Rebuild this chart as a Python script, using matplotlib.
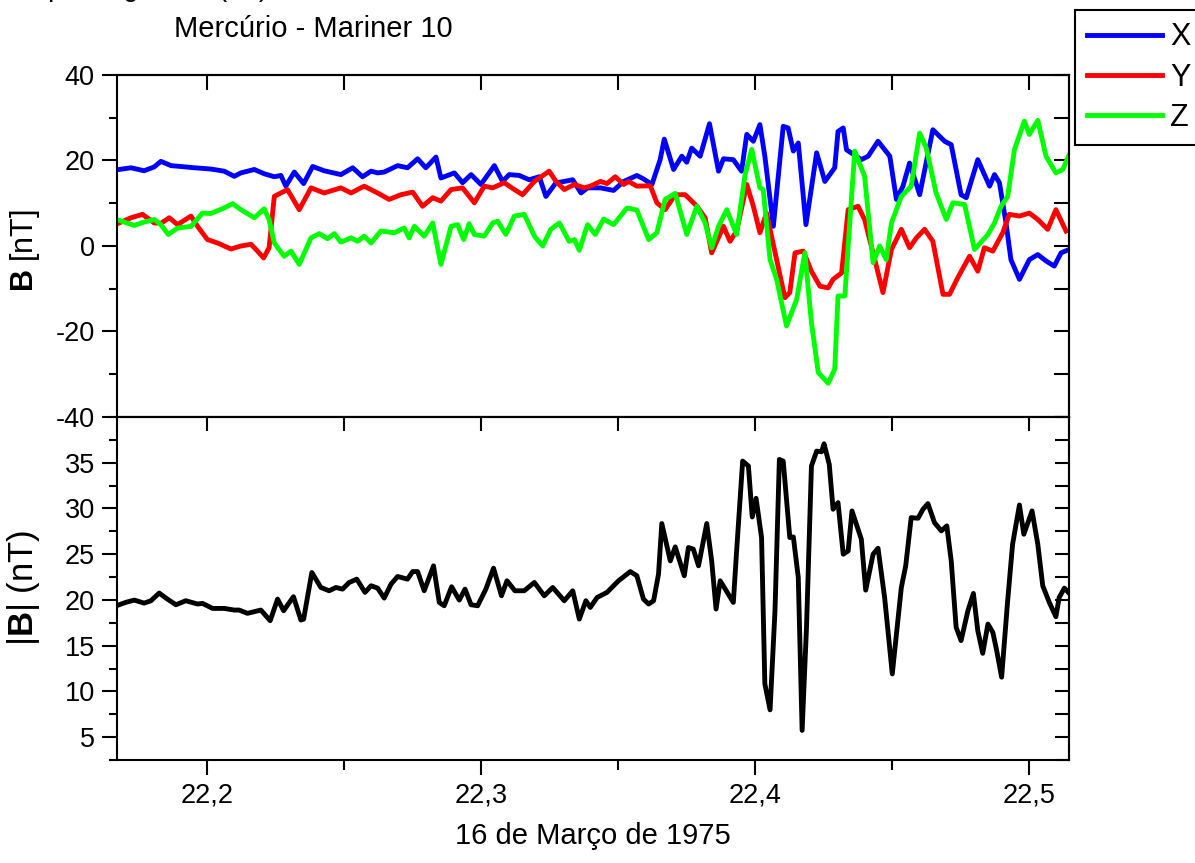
import matplotlib
matplotlib.use('Agg')
import matplotlib.pyplot as plt
from matplotlib.lines import Line2D
from matplotlib.ticker import MultipleLocator, FuncFormatter

plt.rcParams['font.family'] = ['Liberation Sans', 'DejaVu Sans']
plt.rcParams['mathtext.fontset'] = 'custom'
plt.rcParams['mathtext.rm'] = 'Liberation Sans'
plt.rcParams['mathtext.bf'] = 'Liberation Sans:bold'
plt.rcParams['axes.unicode_minus'] = False

# Mariner 10, 16 March 1975 -- field components (nT)
t_x = [22.1680, 22.1723, 22.1771, 22.1808, 22.1832, 22.1869, 22.1905, 22.1954, 22.2015, 22.2063,
       22.2100, 22.2124, 22.2173, 22.2209, 22.2246, 22.2270, 22.2288, 22.2319, 22.2353, 22.2386,
       22.2428, 22.2489, 22.2532, 22.2568, 22.2599, 22.2623, 22.2647, 22.2696, 22.2732, 22.2769,
       22.2799, 22.2836, 22.2854, 22.2903, 22.2933, 22.2964, 22.3000, 22.3049, 22.3079, 22.3103,
       22.3140, 22.3176, 22.3213, 22.3237, 22.3274, 22.3304, 22.3335, 22.3365, 22.3389,
       22.3436, 22.3484, 22.3521, 22.3569, 22.3593, 22.3624, 22.3654, 22.3669, 22.3703, 22.3733,
       22.3751, 22.3769, 22.3800, 22.3834, 22.3867, 22.3885, 22.3921, 22.3951, 22.3970, 22.3994,
       22.4018, 22.4036, 22.4067, 22.4103, 22.4121, 22.4140, 22.4158, 22.4186, 22.4225, 22.4255,
       22.4291, 22.4303, 22.4322, 22.4334, 22.4370, 22.4388, 22.4413, 22.4449, 22.4492, 22.4516,
       22.4540, 22.4564, 22.4601, 22.4649, 22.4692, 22.4716, 22.4752, 22.4771, 22.4813, 22.4856,
       22.4874, 22.4892, 22.4916, 22.4934, 22.4965, 22.5001, 22.5032, 22.5062, 22.5092, 22.5117,
       22.5147]
bx = [17.9, 18.3, 17.6, 18.5, 19.8, 18.8, 18.6, 18.3, 18.0, 17.5,
      16.3, 17.1, 17.9, 16.9, 16.2, 16.5, 14.0, 17.3, 14.6, 18.6,
      17.6, 16.7, 18.3, 16.2, 17.5, 17.1, 17.3, 18.8, 18.3, 20.4,
      18.3, 20.8, 15.9, 17.1, 14.8, 16.7, 14.4, 18.8, 15.1, 16.7,
      16.5, 15.5, 16.2, 11.6, 14.8, 15.1, 15.5, 12.4, 13.6,
      13.6, 13.0, 15.1, 16.5, 15.7, 14.4, 20.2, 25.0, 17.9, 21.0,
      19.6, 22.9, 21.0, 28.6, 17.5, 20.4, 20.2, 17.5, 26.1, 24.5,
      28.4, 21.0, 4.6, 28.0, 27.6, 22.2, 24.1, 5.0, 21.8, 15.1,
      18.3, 26.8, 27.6, 22.5, 21.0, 20.2, 21.0, 24.5, 21.0, 10.9,
      14.0, 19.4, 12.0, 27.2, 24.5, 23.7, 12.0, 11.3, 20.2, 14.0,
      16.7, 14.8, 5.4, -3.2, -7.8, -3.2, -2.0, -3.5, -4.7, -1.6,
      -0.8]

t_y = [22.1680, 22.1723, 22.1765, 22.1808, 22.1832, 22.1863, 22.1893, 22.1942, 22.1966, 22.2002,
       22.2039, 22.2088, 22.2124, 22.2161, 22.2185, 22.2207, 22.2227, 22.2246, 22.2294, 22.2337,
       22.2380, 22.2428, 22.2489, 22.2526, 22.2574, 22.2623, 22.2665, 22.2708, 22.2751, 22.2787,
       22.2824, 22.2854, 22.2891, 22.2933, 22.2976, 22.3012, 22.3043, 22.3085, 22.3122, 22.3152,
       22.3195, 22.3249, 22.3274, 22.3304, 22.3341, 22.3377,
       22.3399, 22.3436, 22.3460, 22.3490, 22.3521, 22.3539, 22.3569, 22.3618, 22.3642, 22.3672,
       22.3709, 22.3745, 22.3763, 22.3788, 22.3818, 22.3842, 22.3885, 22.3909, 22.3933, 22.3970,
       22.3994, 22.4018, 22.4042, 22.4079, 22.4109, 22.4127, 22.4146, 22.4176, 22.4206, 22.4237,
       22.4267, 22.4285, 22.4316, 22.4340, 22.4376, 22.4400, 22.4437, 22.4467, 22.4498, 22.4534,
       22.4564, 22.4589, 22.4619, 22.4649, 22.4686, 22.4710, 22.4740, 22.4783, 22.4813, 22.4837,
       22.4868, 22.4904, 22.4928, 22.4965, 22.5001, 22.5032, 22.5068, 22.5098, 22.5135]
by = [5.4, 6.6, 7.4, 5.4, 5.3, 6.6, 5.0, 7.0, 4.6, 1.5,
      0.7, -0.7, 0.0, 0.4, -1.2, -2.8, -0.4, 11.6, 13.2, 8.5,
      13.6, 12.4, 13.6, 12.4, 14.0, 12.4, 10.9, 12.0, 12.6, 9.3,
      11.3, 10.5, 13.2, 13.6, 10.1, 14.0, 13.6, 14.8, 13.2, 12.0,
      15.1, 17.5, 15.1, 13.2, 14.4, 13.6,
      14.0, 15.1, 14.6, 16.2, 14.4, 15.1, 14.0, 14.1, 10.1, 8.5,
      12.0, 12.0, 10.9, 9.3, 6.6, -1.6, 4.6, 1.1, 3.5, 14.4,
      9.3, 3.1, 7.7, -3.2, -12.1, -10.9, -1.6, -1.2, -5.9, -9.4,
      -9.8, -7.8, -6.3, 8.5, 9.3, 6.2, -3.2, -10.9, -0.8, 3.9,
      -0.4, 1.9, 3.9, 1.1, -11.3, -11.3, -7.4, -2.4, -5.9, -0.4,
      -1.2, 3.1, 7.4, 7.0, 7.7, 6.2, 3.9, 8.5, 3.5]

t_z = [22.1680, 22.1735, 22.1771, 22.1808, 22.1832, 22.1859, 22.1893, 22.1942, 22.1984, 22.2015,
       22.2063, 22.2094, 22.2124, 22.2173, 22.2209, 22.2227, 22.2246, 22.2282, 22.2307, 22.2337,
       22.2380, 22.2410, 22.2440, 22.2465, 22.2489, 22.2526, 22.2550, 22.2574, 22.2599, 22.2635,
       22.2684, 22.2720, 22.2738, 22.2757, 22.2793, 22.2824, 22.2854, 22.2891, 22.2915, 22.2937,
       22.2957, 22.2976, 22.3012, 22.3043, 22.3061, 22.3091, 22.3122, 22.3158, 22.3195, 22.3225,
       22.3255, 22.3286, 22.3322, 22.3341, 22.3359, 22.3389,
       22.3417, 22.3448, 22.3484, 22.3533, 22.3569, 22.3612, 22.3642, 22.3672, 22.3709, 22.3751,
       22.3788, 22.3818, 22.3842, 22.3867, 22.3897, 22.3933, 22.3964, 22.3988, 22.4018, 22.4030,
       22.4055, 22.4079, 22.4115, 22.4152, 22.4182, 22.4206, 22.4231, 22.4267, 22.4291, 22.4303,
       22.4328, 22.4340, 22.4364, 22.4400, 22.4431, 22.4455, 22.4479, 22.4498, 22.4534, 22.4570,
       22.4601, 22.4625, 22.4661, 22.4698, 22.4722, 22.4765, 22.4801, 22.4850, 22.4874, 22.4898,
       22.4922, 22.4947, 22.4983, 22.5001, 22.5032, 22.5062, 22.5098, 22.5123, 22.5147]
bz = [6.0, 4.8, 5.6, 6.2, 5.0, 2.7, 4.2, 4.6, 7.7, 7.6,
      8.9, 9.9, 8.5, 6.6, 8.7, 6.2, 0.7, -2.4, -1.2, -4.3,
      1.9, 2.9, 1.7, 2.9, 0.9, 1.9, 1.1, 2.3, 0.7, 3.5,
      3.1, 4.2, 1.9, 4.6, 2.3, 5.4, -4.3, 4.6, 5.0, 1.5,
      5.2, 2.7, 2.3, 5.4, 5.8, 2.7, 7.0, 7.4, 2.3, 0.0,
      3.9, 5.4, 1.1, 1.5, -1.0, 5.0,
      2.7, 6.3, 5.0, 8.9, 8.4, 1.5, 3.1, 10.9, 12.3, 2.7,
      9.3, 5.4, -0.4, 4.6, 8.5, 2.7, 16.7, 22.6, 13.6, 13.2,
      -3.2, -7.8, -18.7, -12.5, -1.6, -17.9, -29.6, -32.1, -28.8, -11.7,
      -11.7, 0.0, 22.2, 16.3, -3.9, 0.0, -3.2, 5.4, 11.6, 14.0,
      26.4, 22.9, 12.4, 6.2, 10.1, 9.7, -0.8, 2.7, 5.4, 9.3,
      11.6, 22.6, 29.2, 26.1, 29.4, 21.0, 17.1, 17.9, 21.4]

# field magnitude |B| (nT)
t_b = [22.1680, 22.1704, 22.1735, 22.1771, 22.1796, 22.1826, 22.1856, 22.1887, 22.1923, 22.1966,
       22.1984, 22.2021, 22.2063, 22.2100, 22.2118, 22.2148, 22.2197, 22.2231, 22.2258, 22.2280,
       22.2316, 22.2343, 22.2353, 22.2383, 22.2416, 22.2446, 22.2471, 22.2495, 22.2519, 22.2547,
       22.2577, 22.2599, 22.2623, 22.2647, 22.2672, 22.2696, 22.2732, 22.2751, 22.2769, 22.2793,
       22.2827, 22.2848, 22.2866, 22.2893, 22.2921, 22.2942, 22.2964, 22.2988, 22.3018, 22.3046,
       22.3075, 22.3095, 22.3124, 22.3158, 22.3195, 22.3231, 22.3262, 22.3304, 22.3335, 22.3359,
       22.3383,
       22.3399, 22.3424, 22.3460, 22.3502, 22.3545, 22.3569, 22.3593, 22.3612, 22.3630, 22.3648,
       22.3660, 22.3691, 22.3709, 22.3742, 22.3757, 22.3775, 22.3794, 22.3824, 22.3842, 22.3858,
       22.3873, 22.3921, 22.3933, 22.3955, 22.3976, 22.3990, 22.4004, 22.4024, 22.4036, 22.4055,
       22.4073, 22.4089, 22.4103, 22.4127, 22.4140, 22.4158, 22.4172, 22.4188, 22.4206, 22.4225,
       22.4243, 22.4252, 22.4271, 22.4285, 22.4303, 22.4322, 22.4340, 22.4354, 22.4388, 22.4404,
       22.4431, 22.4449, 22.4473, 22.4501, 22.4534, 22.4550, 22.4570, 22.4595, 22.4613, 22.4631,
       22.4655, 22.4680, 22.4700, 22.4716, 22.4734, 22.4752, 22.4777, 22.4797, 22.4813, 22.4831,
       22.4850, 22.4868, 22.4882, 22.4900, 22.4922, 22.4940, 22.4965, 22.4981, 22.5011, 22.5032,
       22.5050, 22.5074, 22.5098, 22.5110, 22.5129, 22.5147]
bmag = [19.47, 19.73, 19.98, 19.65, 19.91, 20.75, 20.09, 19.47, 19.91, 19.55,
        19.62, 19.07, 19.07, 18.89, 18.89, 18.53, 18.89, 17.73, 20.09, 18.82,
        20.35, 17.80, 17.90, 23.00, 21.36, 21.00, 21.36, 21.18, 21.90, 22.27,
        20.82, 21.55, 21.29, 20.20, 21.73, 22.56, 22.27, 23.10, 23.10, 21.00,
        23.73, 19.73, 19.36, 21.44, 19.98, 21.18, 19.47, 19.36, 21.18, 23.47,
        20.45, 22.09, 21.00, 21.00, 21.91, 20.45, 21.36, 19.91, 21.00, 17.91,
        19.91,
        19.18, 20.27, 20.82, 22.09, 23.10, 22.64, 20.09, 19.55, 19.91, 22.82,
        28.35, 24.27, 25.80, 22.64, 25.73, 25.55, 23.73, 28.35, 24.27, 19.00,
        22.09, 19.73, 25.36, 35.18, 34.64, 29.07, 31.11, 26.82, 10.82, 7.98,
        18.82, 35.36, 35.18, 26.82, 26.89, 22.45, 5.73, 17.00, 34.64, 36.27,
        36.20, 37.07, 34.82, 29.91, 30.64, 25.00, 25.36, 29.73, 26.64, 21.07,
        25.00, 25.65, 20.27, 11.91, 21.36, 23.73, 29.00, 28.93, 29.91, 30.53,
        28.45, 27.55, 28.09, 24.27, 17.00, 15.55, 18.82, 20.71, 16.64, 14.16,
        17.36, 16.45, 14.45, 11.55, 19.91, 26.09, 30.38, 27.18, 29.73, 26.09,
        21.55, 19.73, 18.16, 20.27, 21.29, 20.71]

labels = ['X', 'Y', 'Z']
colors = ['#0000ff', '#ff0000', '#00ff00']

xmin, xmax = 22.1672, 22.5146
lw_spine = 1.5


def comma(v, pos):
    return f'{v:.1f}'.replace('.', ',')


fig = plt.figure(figsize=(11.95, 8.63), dpi=100)
ax1 = fig.add_axes([0.0979, 0.5168, 0.7967, 0.3963])
ax2 = fig.add_axes([0.0979, 0.1194, 0.7967, 0.3974])

for t, b, c in zip([t_x, t_y, t_z], [bx, by, bz], colors):
    ax1.plot(t, b, color=c, lw=3.5)
ax2.plot(t_b, bmag, color='black', lw=3.5)

for ax in (ax1, ax2):
    ax.set_xlim(xmin, xmax)
    for s in ax.spines.values():
        s.set_linewidth(lw_spine)

# top panel
ax1.set_ylim(-40, 40)
ax1.yaxis.set_major_locator(MultipleLocator(20))
ax1.yaxis.set_minor_locator(MultipleLocator(10))
ax1.tick_params(axis='y', which='major', direction='out', length=11, width=1.5,
                labelsize=19.5, pad=5)
ax1.tick_params(axis='y', which='minor', direction='out', length=6, width=1.5)
ax1.tick_params(axis='x', which='both', bottom=False, labelbottom=False)
ax1.set_ylabel(r'$\mathbf{B}$ [nT]', fontsize=22)
ax1.yaxis.set_label_coords(-0.079, 0.488)

r1 = ax1.secondary_yaxis('right')
r1.yaxis.set_major_locator(MultipleLocator(10))
r1.tick_params(direction='in', length=11, width=1.5, labelright=False)
r1.spines['right'].set_linewidth(lw_spine)
t1 = ax1.secondary_xaxis('top')
t1.xaxis.set_major_locator(MultipleLocator(0.05))
t1.tick_params(direction='in', length=11, width=1.5, labeltop=False)
t1.spines['top'].set_linewidth(lw_spine)

# bottom panel
ax2.set_ylim(2.5, 40)
ax2.yaxis.set_major_locator(MultipleLocator(5))
ax2.yaxis.set_minor_locator(MultipleLocator(2.5))
ax2.set_yticks([5, 10, 15, 20, 25, 30, 35])
ax2.tick_params(axis='y', which='major', direction='out', length=11, width=1.5,
                labelsize=19.5, pad=5)
ax2.tick_params(axis='y', which='minor', direction='out', length=6, width=1.5)
ax2.xaxis.set_major_locator(MultipleLocator(0.1))
ax2.xaxis.set_minor_locator(MultipleLocator(0.05))
ax2.xaxis.set_major_formatter(FuncFormatter(comma))
ax2.tick_params(axis='x', which='major', direction='out', length=11, width=1.5,
                labelsize=19.5, pad=5)
ax2.tick_params(axis='x', which='minor', direction='out', length=7, width=1.5)
ax2.set_ylabel(r'|$\mathbf{B}$| (nT)', fontsize=25)
ax2.yaxis.set_label_coords(-0.079, 0.501)
ax2.set_xlabel('16 de Março de 1975', fontsize=21, labelpad=10)

r2 = ax2.secondary_yaxis('right')
r2.yaxis.set_major_locator(MultipleLocator(2.5))
r2.tick_params(direction='in', length=10, width=1.5, labelright=False)
r2.spines['right'].set_linewidth(lw_spine)
t2 = ax2.secondary_xaxis('top')
t2.xaxis.set_major_locator(MultipleLocator(0.05))
t2.tick_params(direction='in', length=10, width=1.5, labeltop=False)
t2.spines['top'].set_linewidth(lw_spine)

fig.text(313 / 1195, 1 - 37 / 863, 'Mercúrio - Mariner 10', fontsize=21,
         ha='center', va='baseline')
# partly cut off at the top edge, as in the original
fig.text(268 / 1195, 1 + 4 / 863, 'Campo magnético (nT)', fontsize=19.5,
         ha='right', va='baseline')

handles = [Line2D([], [], color=c, lw=3.5) for c in colors]
leg = fig.legend(handles, labels, loc='upper left',
                 bbox_to_anchor=(1075 / 1195, 1 - 10 / 863), borderaxespad=0,
                 fontsize=22, frameon=True, fancybox=False, framealpha=1,
                 edgecolor='black', handlelength=2.45, handletextpad=0.26,
                 labelspacing=0.34, borderpad=0.4)
leg.get_frame().set_linewidth(1.5)

fig.savefig('out.png', dpi=100)
